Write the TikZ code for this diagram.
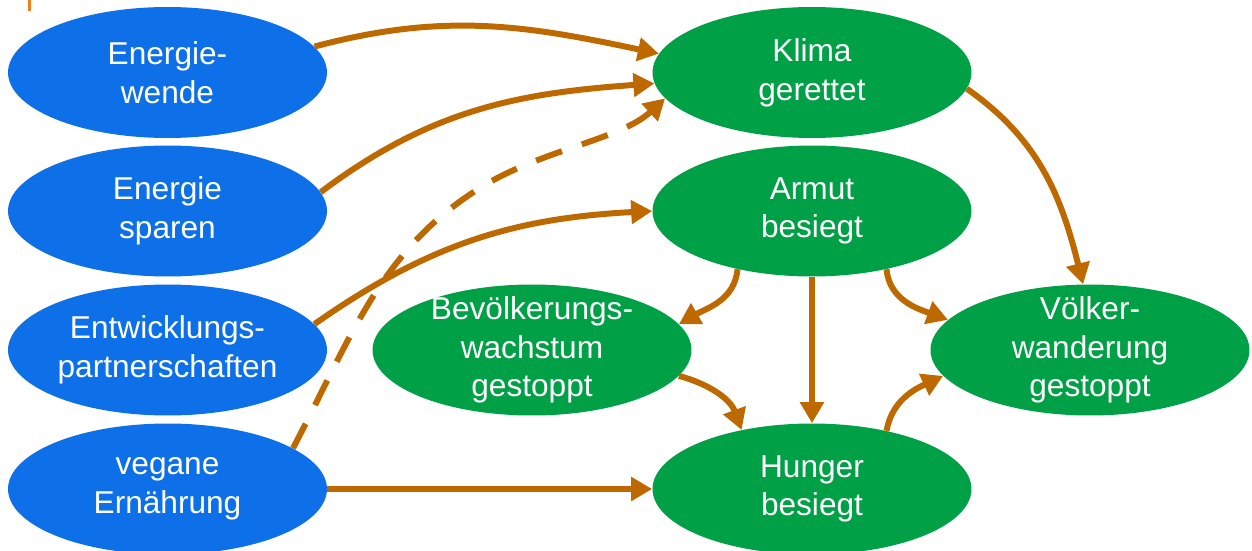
\documentclass[tikz,border=0pt]{standalone}
\usepackage{fontspec}
\setmainfont{Liberation Sans}
\usepackage{tikz}
\usetikzlibrary{shapes}
\usetikzlibrary{arrows.meta}
\definecolor{zielgruen}{RGB}{0,160,70}
\definecolor{massblau}{RGB}{14,112,232}
\definecolor{pfeilbraun}{RGB}{190,105,0}
\definecolor{randorange}{RGB}{245,125,30}

\begin{document}
\begin{tikzpicture}[x=0.02cm,y=-0.02cm,
        oval/.style={ellipse,minimum width=6.38cm,minimum height=2.62cm,inner sep=-8pt,
            text=white,align=center,font=\fontsize{18}{22}\selectfont},
        mass/.style={oval,fill=massblau},
        ziel/.style={oval,fill=zielgruen},
        pfeil/.style={draw=pfeilbraun,line width=3.4pt,-{Triangle[length=0.42cm,width=0.46cm]}}]
        \useasboundingbox (0,0) rectangle (1252,551);
        \fill[randorange] (28,0) rectangle (31,11);

        \node[mass] (ew) at (167.5,72.5) {Energie-\\wende};
        \node[mass] (es) at (167.5,211) {Energie\\sparen};
        \node[mass] (en) at (167.5,350) {Entwicklungs-\\partnerschaften};
        \node[mass] (vg) at (167.5,489) {vegane\\Ernährung};

        \node[ziel] (kl) at (812,72.5) {Klima\\gerettet};
        \node[ziel] (ar) at (812,211) {Armut\\besiegt};
        \node[ziel] (bv) at (532,350) {Bevölkerungs-\\wachstum\\gestoppt};
        \node[ziel] (vw) at (1090,350) {Völker-\\wanderung\\gestoppt};
        \node[ziel] (hu) at (812,489) {Hunger\\besiegt};

        \coordinate (dknick) at (480,188);

        \draw[pfeil] (ew.10) to[out=15,in=168] (kl.173);
        \draw[pfeil] (es.7) to[out=37,in=184] (kl.184);
        \draw[pfeil,dash pattern=on 0.55cm off 0.42cm] (vg.18) .. controls (350,340) and (380,250) .. (dknick)
            .. controls (540,150) and (620,140) .. (kl.190);
        \draw[pfeil] (en.10) to[out=35,in=183] (ar.180);
        \draw[pfeil] (vg) -- (hu);
        \draw[pfeil] (kl.-6) to[out=-35,in=104] (vw.96);
        \draw[pfeil] (ar.218) to[out=-95,in=30] (bv.10);
        \draw[pfeil] (ar) -- (hu);
        \draw[pfeil] (ar.-38) to[out=-85,in=160] (vw.168);
        \draw[pfeil] (bv.-10) to[out=-15,in=110] (hu.140);
        \draw[pfeil] (hu.38) to[out=80,in=205] (vw.190);
    \end{tikzpicture}
\end{document}
